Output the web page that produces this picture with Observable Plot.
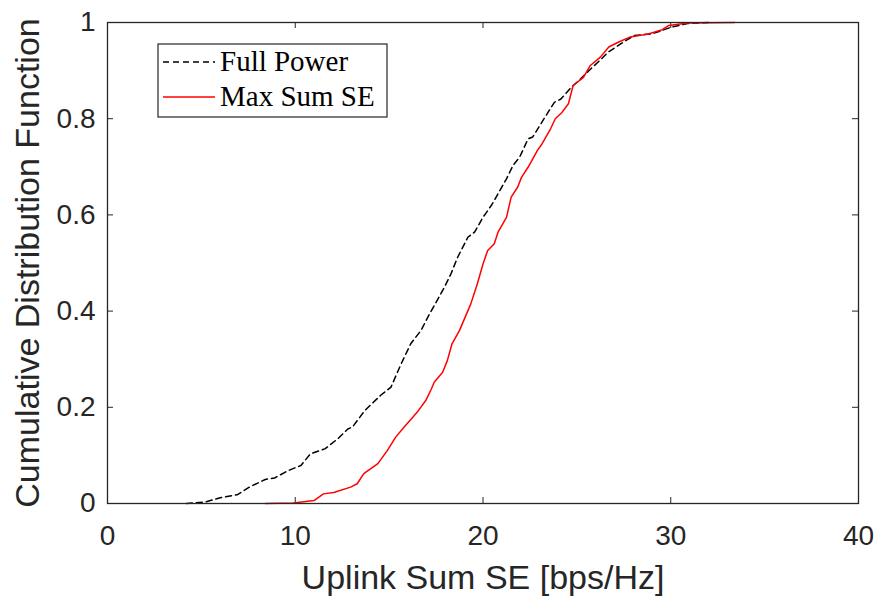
<!DOCTYPE html>
<html>
<head>
<meta charset="utf-8">
<script src="https://cdn.jsdelivr.net/npm/d3@7"></script>
<script src="https://cdn.jsdelivr.net/npm/@observablehq/plot@0.6"></script>
<style>
  html, body { margin: 0; padding: 0; background: #fff; }
  #wrap { position: relative; width: 881px; height: 598px; }
  #legend { position: absolute; left: 0; top: 0; pointer-events: none; }
</style>
</head>
<body>
<div id="wrap"></div>
<script>
// ---- data ----
const seriesNames = ["Full Power", "Max Sum SE"];

const fullPowerX = [4.2, 5.2, 6.0, 6.9, 7.6, 8.4, 8.9, 9.6, 10.3, 10.8, 11.6, 12.25, 12.8, 13.05, 13.7, 14.55, 15.1, 15.6, 16.15, 16.7, 17.15, 17.5, 17.95, 18.3, 18.65, 19.2, 19.55, 20.0, 20.45, 20.8, 21.25, 21.6, 21.95, 22.4, 22.65, 23.25, 23.8, 24.15, 24.7, 25.2, 25.75, 26.3, 26.65, 27.35, 28.05, 28.95, 29.5, 30.0, 30.9, 32.0];
const fullPowerY = [0, 0.003, 0.012, 0.018, 0.035, 0.05, 0.053, 0.068, 0.079, 0.103, 0.114, 0.134, 0.155, 0.159, 0.193, 0.225, 0.242, 0.287, 0.332, 0.36, 0.394, 0.418, 0.45, 0.478, 0.512, 0.554, 0.564, 0.595, 0.62, 0.644, 0.675, 0.703, 0.72, 0.758, 0.762, 0.8, 0.834, 0.841, 0.865, 0.883, 0.904, 0.924, 0.938, 0.956, 0.973, 0.976, 0.983, 0.99, 0.998, 1.0];

const maxSumX = [8.4, 9.9, 11.0, 11.5, 12.05, 12.95, 13.3, 13.65, 14.4, 14.9, 15.35, 15.8, 16.25, 16.5, 16.95, 17.25, 17.4, 17.85, 18.1, 18.35, 18.75, 19.35, 19.7, 20.0, 20.25, 20.6, 20.8, 21.25, 21.5, 21.85, 22.05, 22.4, 22.9, 23.15, 23.6, 23.85, 24.2, 24.55, 24.8, 25.35, 25.7, 26.25, 26.7, 27.2, 27.85, 28.8, 29.55, 29.9, 30.9, 33.4];
const maxSumY = [0, 0.001, 0.006, 0.02, 0.023, 0.034, 0.041, 0.062, 0.083, 0.11, 0.138, 0.159, 0.179, 0.19, 0.214, 0.238, 0.252, 0.273, 0.297, 0.332, 0.36, 0.415, 0.457, 0.498, 0.526, 0.54, 0.564, 0.595, 0.637, 0.658, 0.678, 0.699, 0.734, 0.748, 0.779, 0.8, 0.813, 0.831, 0.869, 0.886, 0.91, 0.928, 0.949, 0.959, 0.97, 0.976, 0.985, 0.994, 0.999, 1.0];

const xTicks = [0, 10, 20, 30, 40];
const xTickLabels = ["0", "10", "20", "30", "40"];
const yTicks = [0, 0.2, 0.4, 0.6, 0.8, 1];
const yTickLabels = ["0", "0.2", "0.4", "0.6", "0.8", "1"];
const xLabel = "Uplink Sum SE [bps/Hz]";
const yLabel = "Cumulative Distribution Function";

// ---- build tables ----
const fullPower = fullPowerX.map((x, i) => ({x, y: fullPowerY[i]}));
const maxSum = maxSumX.map((x, i) => ({x, y: maxSumY[i]}));

const W = 881, H = 598;
const mL = 107, mR = 23, mT = 22, mB = 95;
const plotW = W - mL - mR, plotH = H - mT - mB;
const axisColor = "#262626";

const chart = Plot.plot({
  width: W,
  height: H,
  marginLeft: mL,
  marginRight: mR,
  marginTop: mT,
  marginBottom: mB,
  style: {fontFamily: "'Liberation Sans', Arial, sans-serif", fontSize: "28px", color: axisColor, background: "#fff"},
  x: {domain: [0, 40]},
  y: {domain: [0, 1]},
  marks: [
    Plot.axisX({ticks: xTicks, tickSize: 0, tickPadding: 22, tickFormat: (d, i) => xTickLabels[i], label: null, fontSize: 28}),
    Plot.axisY({ticks: yTicks, tickSize: 0, tickPadding: 12, tickFormat: (d, i) => yTickLabels[i], label: null, fontSize: 28}),
    // inward ticks (MATLAB style box)
    Plot.tickX(xTicks, {x: d => d, insetTop: plotH - 6, stroke: axisColor, strokeWidth: 1}),
    Plot.tickX(xTicks, {x: d => d, insetBottom: plotH - 6, stroke: axisColor, strokeWidth: 1}),
    Plot.tickY(yTicks, {y: d => d, insetRight: plotW - 6, stroke: axisColor, strokeWidth: 1}),
    Plot.tickY(yTicks, {y: d => d, insetLeft: plotW - 6, stroke: axisColor, strokeWidth: 1}),
    Plot.line(fullPower, {x: "x", y: "y", stroke: "#000", strokeWidth: 1.5, strokeDasharray: "6,4"}),
    Plot.line(maxSum, {x: "x", y: "y", stroke: "#ff0000", strokeWidth: 1.5}),
    Plot.frame({stroke: axisColor, strokeWidth: 1.3}),
    Plot.text([xLabel], {frameAnchor: "bottom", dy: 75, lineAnchor: "middle", textAnchor: "middle", text: d => d, fontSize: 34, fill: axisColor}),
    Plot.text([yLabel], {frameAnchor: "left", dx: -79, rotate: -90, lineAnchor: "middle", textAnchor: "middle", text: d => d, fontSize: 34, fill: axisColor})
  ]
});

const wrap = document.getElementById("wrap");
wrap.appendChild(chart);

// ---- legend (overlay) ----
const ns = "http://www.w3.org/2000/svg";
const leg = document.createElementNS(ns, "svg");
leg.setAttribute("id", "legend");
leg.setAttribute("width", W);
leg.setAttribute("height", H);
const lx = 158, ly = 44, lw = 229, lh = 73;
const legendStyles = [
  {stroke: "#000", dash: "6,4"},
  {stroke: "#ff0000", dash: null}
];
let html = `<rect x="${lx}" y="${ly}" width="${lw}" height="${lh}" fill="#fff" stroke="${axisColor}" stroke-width="1.2"/>`;
seriesNames.forEach((name, i) => {
  const cy = ly + 18 + i * 35;
  const s = legendStyles[i];
  html += `<line x1="${lx + 5}" x2="${lx + 57}" y1="${cy}" y2="${cy}" stroke="${s.stroke}" stroke-width="1.5" ${s.dash ? `stroke-dasharray="${s.dash}"` : ""}/>`;
  html += `<text x="${lx + 62}" y="${cy + 9}" font-family="'Liberation Serif', 'Times New Roman', serif" font-size="29" fill="#000">${name}</text>`;
});
leg.innerHTML = html;
wrap.appendChild(leg);
</script>
</body>
</html>
